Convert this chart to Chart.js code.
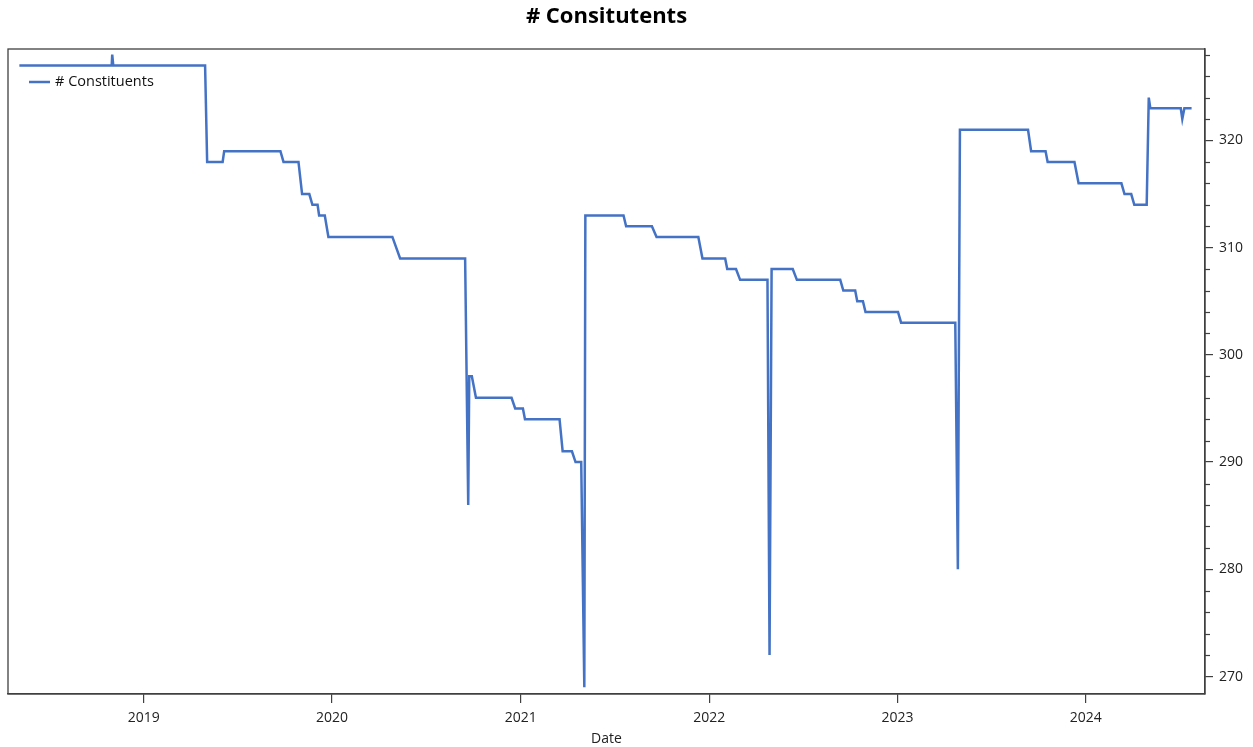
<!DOCTYPE html>
<html>
<head>
<meta charset="utf-8">
<script src="https://cdn.jsdelivr.net/npm/chart.js@4"></script>
<style>
  html, body { margin: 0; padding: 0; background: #fff; }
  #wrap { width: 1253px; height: 747px; position: relative; }
</style>
</head>
<body>
<div id="wrap"><canvas id="c" width="1253" height="747"></canvas></div>
<script>
const chartTitle = '# Consitutents';
const seriesName = '# Constituents';
const xAxisTitle = 'Date';
const tickYears = [2019, 2020, 2021, 2022, 2023, 2024];
const yTickValues = [270, 280, 290, 300, 310, 320];
const dates = [
  '2018-05-05','2018-10-31','2018-11-01','2018-11-03','2019-04-30','2019-05-04','2019-06-03','2019-06-06',
  '2019-09-23','2019-09-29','2019-10-28','2019-11-04','2019-11-18','2019-11-24','2019-12-04','2019-12-07',
  '2019-12-18','2019-12-25','2020-04-27','2020-05-12','2020-09-15','2020-09-21','2020-09-23','2020-09-28',
  '2020-10-06','2020-12-14','2020-12-21','2021-01-05','2021-01-09','2021-03-17','2021-03-23','2021-04-10',
  '2021-04-17','2021-04-28','2021-05-04','2021-05-06','2021-07-19','2021-07-24','2021-09-12','2021-09-21',
  '2021-12-11','2021-12-19','2022-02-01','2022-02-05','2022-02-22','2022-03-02','2022-04-24','2022-04-28',
  '2022-05-02','2022-06-12','2022-06-20','2022-09-12','2022-09-18','2022-10-11','2022-10-15','2022-10-26',
  '2022-10-31','2023-01-02','2023-01-08','2023-04-23','2023-04-28','2023-05-02','2023-09-11','2023-09-17',
  '2023-10-15','2023-10-19','2023-12-10','2023-12-18','2024-03-10','2024-03-16','2024-03-29','2024-04-04',
  '2024-04-28','2024-05-02','2024-05-05','2024-07-03','2024-07-06','2024-07-10','2024-07-24'
];
const constituents = [
  327,327,328,327,327,318,318,319,
  319,318,318,315,315,314,314,313,
  313,311,311,309,309,286,298,298,
  296,296,295,295,294,294,291,291,
  290,290,269,313,313,312,312,311,
  311,309,309,308,308,307,307,272,
  308,308,307,307,306,306,305,305,
  304,304,303,303,280,321,321,319,
  319,318,318,316,316,315,315,314,
  314,324,323,323,322,323,323
];
const xMinDate = '2018-04-13';
const xMaxDate = '2024-08-19';
const yMin = 268.37, yMax = 328.53;

const FONT = '"Open Sans", "Noto Sans", sans-serif';
const AXIS = '#404040';
const LINE = '#4472C4';

const points = dates.map((d, i) => ({ x: Date.parse(d), y: constituents[i] }));

const decor = {
  id: 'decor',
  afterDraw(chart) {
    const ctx = chart.ctx, a = chart.chartArea, ys = chart.scales.y;
    ctx.save();
    ctx.strokeStyle = AXIS;
    ctx.lineWidth = 1.3;
    ctx.strokeRect(a.left, a.top, a.right - a.left, a.bottom - a.top);
    // minor ticks on y axis
    ctx.lineWidth = 1.2;
    for (let v = 270; v <= 328; v += 2) {
      if (v % 10 === 0) continue;
      const y = Math.round(ys.getPixelForValue(v)) + 0.5;
      ctx.beginPath(); ctx.moveTo(a.right, y); ctx.lineTo(a.right + 5, y); ctx.stroke();
    }
    // title
    ctx.fillStyle = '#000';
    ctx.font = 'bold 22px ' + FONT;
    ctx.textAlign = 'center';
    ctx.textBaseline = 'middle';
    ctx.fillText(chartTitle, (a.left + a.right) / 2, 17);
    // legend
    ctx.strokeStyle = LINE; ctx.lineWidth = 2.5;
    ctx.beginPath(); ctx.moveTo(a.left + 21, a.top + 33); ctx.lineTo(a.left + 42, a.top + 33); ctx.stroke();
    ctx.fillStyle = '#111';
    ctx.font = '14.5px ' + FONT;
    ctx.textAlign = 'left';
    ctx.fillText(seriesName, a.left + 47, a.top + 33);
    ctx.restore();
  }
};

new Chart(document.getElementById('c'), {
  type: 'line',
  data: {
    datasets: [{
      label: seriesName,
      data: points,
      borderColor: LINE,
      borderWidth: 2.5,
      pointRadius: 0,
      tension: 0,
      fill: false
    }]
  },
  options: {
    responsive: false,
    animation: false,
    layout: { padding: { top: 49, left: 8, right: 0, bottom: 0 } },
    plugins: { legend: { display: false }, title: { display: false }, tooltip: { enabled: false } },
    scales: {
      x: {
        type: 'linear',
        min: Date.parse(xMinDate),
        max: Date.parse(xMaxDate),
        afterBuildTicks(s) { s.ticks = tickYears.map(y => ({ value: Date.UTC(y, 0, 1) })); },
        afterFit(s) { s.height = 53; },
        ticks: {
          callback(v) { return String(new Date(v).getUTCFullYear()); },
          color: '#222', font: { family: FONT, size: 14 }, padding: 7, maxRotation: 0, autoSkip: false
        },
        grid: { drawOnChartArea: false, drawTicks: true, tickLength: 9, color: AXIS, lineWidth: 1.2 },
        border: { display: true, color: AXIS, width: 1.3 },
        title: { display: true, text: xAxisTitle, color: '#222', font: { family: FONT, size: 14 }, padding: { top: 0, bottom: 0 } }
      },
      y: {
        position: 'right',
        min: yMin,
        max: yMax,
        afterBuildTicks(s) { s.ticks = yTickValues.map(v => ({ value: v })); },
        afterFit(s) { s.width = 48; },
        ticks: { color: '#222', font: { family: FONT, size: 14 }, padding: 6, autoSkip: false },
        grid: { drawOnChartArea: false, drawTicks: true, tickLength: 8, color: AXIS, lineWidth: 1.2 },
        border: { display: true, color: AXIS, width: 1.3 }
      }
    }
  },
  plugins: [decor]
});
</script>
</body>
</html>
